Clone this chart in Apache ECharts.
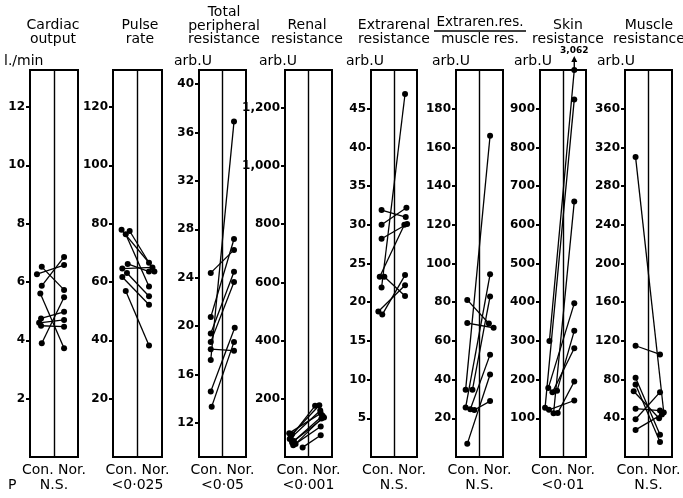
<!DOCTYPE html>
<html>
<head>
<meta charset="utf-8">
<script src="https://cdn.jsdelivr.net/npm/echarts@6/dist/echarts.min.js"></script>
<style>
  html, body { margin: 0; padding: 0; background: #fff; }
  #chart { width: 683px; height: 498px; }
</style>
</head>
<body>
<div id="chart"></div>
<script>
// Paired measurements per subject: Con. value i is joined to Nor. value i.
// *X arrays give the horizontal spread of the dots inside each column (0..2, centre line at 1).

const cardiacCon  = [6.27, 6.52, 5.87, 5.61, 4.75, 4.60, 4.50, 3.90];
const cardiacNor  = [6.58, 5.73, 6.86, 3.73, 4.98, 4.70, 4.47, 5.48];
const cardiacConX = [0.29, 0.49, 0.49, 0.43, 0.46, 0.38, 0.46, 0.49];
const cardiacNorX = [1.42, 1.42, 1.42, 1.42, 1.42, 1.42, 1.42, 1.42];
const cardiacTicks = [2, 4, 6, 8, 10, 12];

const pulseCon  = [77.9, 77.5, 76.4, 66.2, 64.6, 63.1, 61.7, 56.9];
const pulseNor  = [66.6, 63.6, 58.5, 63.6, 65.0, 55.1, 52.2, 38.2];
const pulseConX = [0.35, 0.68, 0.52, 0.60, 0.38, 0.57, 0.38, 0.52];
const pulseNorX = [1.47, 1.69, 1.47, 1.47, 1.61, 1.47, 1.47, 1.47];
const pulseTicks = [20, 40, 60, 80, 100, 120];

const tprCon  = [24.4, 20.75, 19.4, 18.7, 17.2, 18.1, 14.6, 13.35];
const tprNor  = [26.3, 27.2, 24.5, 23.65, 36.9, 17.97, 19.86, 18.7];
const tprConX = [0.50, 0.50, 0.50, 0.50, 0.50, 0.50, 0.50, 0.54];
const tprNorX = [1.49, 1.49, 1.49, 1.49, 1.49, 1.49, 1.52, 1.49];
const tprTicks = [12, 16, 20, 24, 28, 32, 36, 40];

const renalCon  = [82, 78, 70, 62, 55, 50, 45, 40, 33];
const renalNor  = [150, 178, 176, 160, 142, 136, 132, 105, 75];
const renalConX = [0.18, 0.30, 0.25, 0.20, 0.38, 0.30, 0.45, 0.35, 0.75];
const renalNorX = [1.52, 1.46, 1.28, 1.50, 1.60, 1.66, 1.55, 1.52, 1.52];
const renalTicks = [200, 400, 600, 800, 1000, 1200];

const extraCon  = [31.9, 30.0, 28.2, 23.3, 23.3, 21.9, 18.8, 18.4];
const extraNor  = [31.0, 32.2, 30.1, 30.0, 20.8, 46.9, 22.2, 23.5];
const extraConX = [0.46, 0.46, 0.46, 0.38, 0.58, 0.46, 0.32, 0.49];
const extraNorX = [1.51, 1.54, 1.57, 1.45, 1.48, 1.48, 1.48, 1.48];
const extraTicks = [5, 10, 15, 20, 25, 30, 35, 40, 45];

const ratioCon  = [81.2, 69.2, 34.8, 34.8, 25.6, 24.7, 24.3, 6.8];
const ratioNor  = [69.0, 66.8, 166, 83, 94.4, 52.9, 28.9, 42.6];
const ratioConX = [0.48, 0.48, 0.41, 0.70, 0.41, 0.61, 0.78, 0.48];
const ratioNorX = [1.40, 1.60, 1.45, 1.45, 1.45, 1.45, 1.45, 1.45];
const ratioTicks = [20, 40, 60, 80, 100, 120, 140, 160, 180];

const skinCon  = [300, 127, 178, 167, 171, 113, 122, 114];
const skinNor  = [3062, 924, 397, 281, 326, 660, 146, 195];
const skinConX = [0.41, 0.22, 0.36, 0.54, 0.74, 0.59, 0.39, 0.77];
const skinNorX = [1.49, 1.49, 1.49, 1.49, 1.49, 1.49, 1.49, 1.49];
const skinTicks = [100, 200, 300, 400, 500, 600, 700, 800, 900];

const muscleCon  = [310, 115, 82, 75, 68, 50, 39, 28];
const muscleNor  = [46, 106, 23, 15.6, 40, 48, 67, 44];
const muscleConX = [0.45, 0.45, 0.45, 0.45, 0.37, 0.45, 0.45, 0.45];
const muscleNorX = [1.65, 1.49, 1.49, 1.49, 1.45, 1.49, 1.49, 1.57];
const muscleTicks = [40, 80, 120, 160, 200, 240, 280, 320, 360];

const titles = [
  ['Cardiac', 'output'],
  ['Pulse', 'rate'],
  ['Total', 'peripheral', 'resistance'],
  ['Renal', 'resistance'],
  ['Extrarenal', 'resistance'],
  ['Extraren.res.', 'muscle res.'],
  ['Skin', 'resistance'],
  ['Muscle', 'resistance']
];
const units = ['l./min', '', 'arb.U', 'arb.U', 'arb.U', 'arb.U', 'arb.U', 'arb.U'];
const pValues = ['N.S.', '<0\u00b7025', '<0\u00b705', '<0\u00b7001', 'N.S.', 'N.S.', '<0\u00b701', 'N.S.'];
const groupLabel = 'Con. Nor.';

// Axis ranges of each column
const yRanges = [[0, 13.27], [0, 132.7], [9.19, 41.16], [0, 1330], [0, 50], [0, 200], [0, 1000], [0, 400]];

const panelData = [
  [cardiacCon, cardiacNor, cardiacConX, cardiacNorX, cardiacTicks],
  [pulseCon, pulseNor, pulseConX, pulseNorX, pulseTicks],
  [tprCon, tprNor, tprConX, tprNorX, tprTicks],
  [renalCon, renalNor, renalConX, renalNorX, renalTicks],
  [extraCon, extraNor, extraConX, extraNorX, extraTicks],
  [ratioCon, ratioNor, ratioConX, ratioNorX, ratioTicks],
  [skinCon, skinNor, skinConX, skinNorX, skinTicks],
  [muscleCon, muscleNor, muscleConX, muscleNorX, muscleTicks]
];

// Layout of the eight columns
const colLeft  = [30, 113, 199, 285, 371, 456, 540, 625];
const colWidth = [48, 49, 47, 47, 46, 47, 46, 47];
const titleX   = [53, 140, 224, 307, 394, 480, 568, 649];
const unitLeft = [4, 0, 174, 259, 346, 432, 514, 597];
const gridTop = 70, gridBottom = 41;
const FONT = 'DejaVu Sans';
const INK = '#000';

const grids = [], xAxes = [], yAxes = [], series = [], graphics = [];

function addText(text, x, y, size, align, weight) {
  graphics.push({
    type: 'text', x, y, silent: true,
    style: {
      text, fill: INK, font: `${weight || 'normal'} ${size}px "${FONT}"`,
      textAlign: align || 'center', textVerticalAlign: 'middle'
    }
  });
}

panelData.forEach(([con, nor, conX, norX, ticks], i) => {
  const [ymin, ymax] = yRanges[i];
  grids.push({
    left: colLeft[i], width: colWidth[i], top: gridTop, bottom: gridBottom,
    show: true, borderColor: INK, borderWidth: 2, backgroundColor: 'transparent'
  });
  xAxes.push({ type: 'value', gridIndex: i, min: 0, max: 2, show: false });
  yAxes.push({
    type: 'value', gridIndex: i, min: ymin, max: ymax,
    axisLine: { show: false },
    splitLine: { show: false },
    axisTick: { show: true, customValues: ticks, length: 4, lineStyle: { color: INK, width: 2 } },
    axisLabel: {
      customValues: ticks, color: INK, fontFamily: FONT, fontSize: 12, fontWeight: 'bold', margin: 5,
      formatter: v => v >= 1000 ? v.toLocaleString('en-US') : String(v)
    }
  });

  con.forEach((c, j) => {
    const capped = Math.min(nor[j], ymax);
    const s = {
      type: 'line', xAxisIndex: i, yAxisIndex: i, silent: true, animation: false,
      data: [[conX[j], c], [norX[j], capped]],
      symbol: 'circle', symbolSize: 6, showSymbol: true,
      lineStyle: { color: INK, width: 1.3 },
      itemStyle: { color: INK },
      z: 3
    };
    if (j === 0) {
      // centre line dividing the Con. and Nor. columns
      s.markLine = {
        silent: true, symbol: 'none', animation: false,
        label: { show: false },
        lineStyle: { color: INK, width: 1.4, type: 'solid' },
        data: [{ xAxis: 1 }]
      };
    }
    if (nor[j] > ymax) {
      // off-scale value: arrow above the column with the true value
      s.markPoint = {
        silent: true, animation: false,
        symbol: 'path://M3,0 L6,6 L3.7,6 L3.7,14 L2.3,14 L2.3,6 L0,6 Z',
        symbolSize: [6, 14], symbolOffset: [0, -7],
        itemStyle: { color: INK },
        label: {
          show: true, position: 'top', distance: 1, color: INK,
          fontFamily: FONT, fontSize: 9, fontWeight: 'bold',
          formatter: () => nor[j].toLocaleString('en-US')
        },
        data: [{ coord: [norX[j], ymax] }]
      };
    }
    series.push(s);
  });

  // column headings
  const cx = colLeft[i] + colWidth[i] / 2;
  const lines = titles[i];
  const ys = lines.length === 3 ? [12, 26, 39] : (i === 5 ? [22, 39] : [25.5, 39]);
  lines.forEach((t, k) => addText(t, titleX[i], ys[k], i === 5 ? 13.5 : 14));
  if (i === 5) {
    graphics.push({
      type: 'line', silent: true,
      shape: { x1: titleX[i] - 46, y1: 31, x2: titleX[i] + 46, y2: 31 },
      style: { stroke: INK, lineWidth: 1.5 }
    });
  }
  if (units[i]) addText(units[i], unitLeft[i], 61, 14, 'left');
  addText(groupLabel, cx, 470, 14);
  addText(pValues[i], cx, 485, 14);
});

addText('P', 8, 485, 14, 'left');

const chart = echarts.init(document.getElementById('chart'), null, { renderer: 'canvas' });
chart.setOption({
  animation: false,
  backgroundColor: '#fff',
  grid: grids,
  xAxis: xAxes,
  yAxis: yAxes,
  series: series,
  graphic: { elements: graphics }
});
</script>
</body>
</html>
